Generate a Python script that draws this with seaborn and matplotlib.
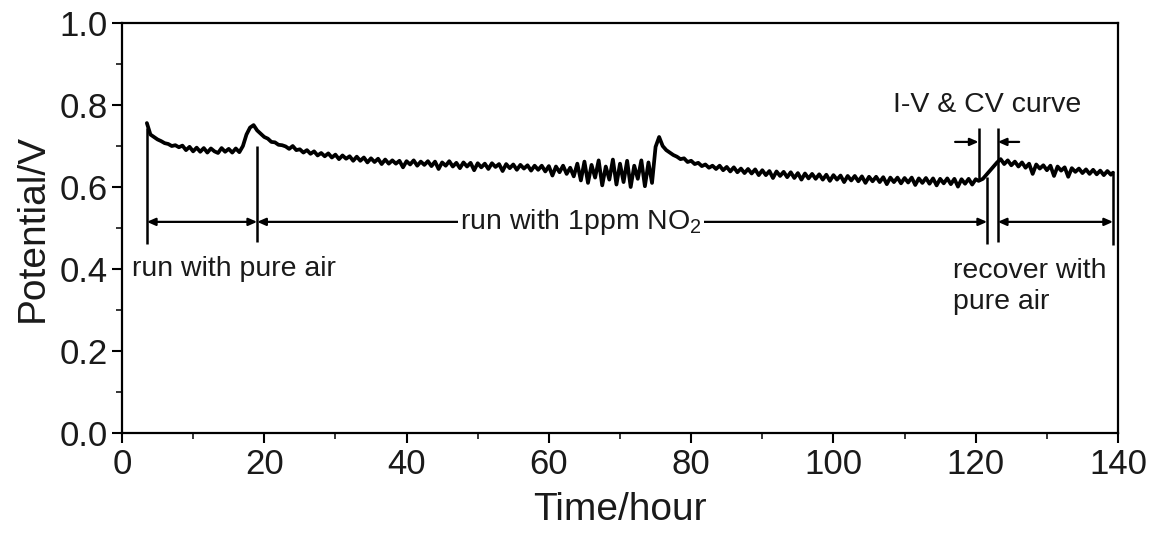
import numpy as np
import pandas as pd
import matplotlib
matplotlib.use("Agg")
import matplotlib.pyplot as plt
import seaborn as sns

# ---------------- data ----------------
# main run: 3.5 h .. 120.0 h, 0.5 h sampling
main_start, main_step = 3.5, 0.5
main_values = [
    0.756, 0.728, 0.722, 0.716, 0.712, 0.707, 0.705, 0.700, 0.702, 0.697,
    0.701, 0.690, 0.698, 0.687, 0.696, 0.686, 0.695, 0.684, 0.694, 0.687,
    0.683, 0.695, 0.686, 0.693, 0.684, 0.694, 0.685, 0.700, 0.728, 0.745,
    0.751, 0.738, 0.730, 0.722, 0.718, 0.710, 0.709, 0.703, 0.702, 0.699,
    0.693, 0.700, 0.690, 0.692, 0.684, 0.690, 0.681, 0.687, 0.677, 0.683,
    0.675, 0.682, 0.672, 0.679, 0.668, 0.677, 0.669, 0.675, 0.664, 0.674,
    0.664, 0.672, 0.660, 0.670, 0.661, 0.669, 0.656, 0.667, 0.657, 0.665,
    0.657, 0.664, 0.648, 0.663, 0.655, 0.665, 0.652, 0.662, 0.654, 0.663,
    0.651, 0.662, 0.644, 0.660, 0.652, 0.663, 0.650, 0.659, 0.646, 0.660,
    0.650, 0.659, 0.641, 0.658, 0.648, 0.657, 0.644, 0.658, 0.649, 0.656,
    0.639, 0.656, 0.646, 0.655, 0.642, 0.654, 0.645, 0.653, 0.640, 0.652,
    0.642, 0.652, 0.638, 0.651, 0.628, 0.650, 0.636, 0.652, 0.632, 0.647,
    0.626, 0.657, 0.616, 0.662, 0.610, 0.654, 0.623, 0.665, 0.604, 0.650,
    0.618, 0.667, 0.606, 0.657, 0.612, 0.664, 0.600, 0.652, 0.620, 0.665,
    0.602, 0.660, 0.610, 0.698, 0.722, 0.700, 0.690, 0.684, 0.678, 0.674,
    0.668, 0.670, 0.661, 0.664, 0.656, 0.659, 0.651, 0.655, 0.647, 0.652,
    0.644, 0.652, 0.641, 0.649, 0.638, 0.648, 0.636, 0.645, 0.634, 0.644,
    0.633, 0.643, 0.629, 0.641, 0.629, 0.639, 0.622, 0.638, 0.627, 0.637,
    0.624, 0.636, 0.622, 0.634, 0.618, 0.633, 0.621, 0.632, 0.620, 0.631,
    0.618, 0.630, 0.615, 0.629, 0.618, 0.628, 0.612, 0.627, 0.616, 0.627,
    0.614, 0.626, 0.610, 0.625, 0.614, 0.625, 0.612, 0.624, 0.607, 0.623,
    0.612, 0.623, 0.609, 0.622, 0.611, 0.623, 0.605, 0.621, 0.610, 0.622,
    0.608, 0.621, 0.604, 0.620, 0.609, 0.621, 0.607, 0.620, 0.601, 0.619,
    0.608, 0.620, 0.606, 0.619,
]
# transition during I-V & CV measurement
trans_time = [120.4, 121.0, 123.0]
trans_values = [0.615, 0.620, 0.660]
# recovery with pure air
recov_time = [123.5, 124.0, 124.5, 125.0, 125.5, 126.0, 126.5, 127.0, 127.5, 128.0,
              128.5, 129.0, 129.5, 130.0, 130.5, 131.0, 131.5, 132.0, 132.5, 133.0,
              133.5, 134.0, 134.5, 135.0, 135.5, 136.0, 136.5, 137.0, 137.5, 138.0,
              138.5, 139.0, 139.3]
recov_values = [0.668, 0.656, 0.665, 0.653, 0.662, 0.650, 0.660, 0.647, 0.657, 0.632,
                0.655, 0.645, 0.653, 0.641, 0.652, 0.627, 0.650, 0.640, 0.648, 0.625,
                0.646, 0.637, 0.645, 0.634, 0.643, 0.632, 0.642, 0.631, 0.640, 0.629,
                0.639, 0.630, 0.635]

# annotation markers (time in hours)
phase_times = [3.5, 19.0, 121.6, 123.1, 139.3]
iv_times = [120.4, 123.1]
bracket_y = 0.515
x_ticks = [0, 20, 40, 60, 80, 100, 120, 140]
y_ticks = [0.0, 0.2, 0.4, 0.6, 0.8, 1.0]

main_time = main_start + main_step * np.arange(len(main_values))
time = np.concatenate([main_time, trans_time, recov_time])
pot = np.concatenate([main_values, trans_values, recov_values])
df = pd.DataFrame({"Time/hour": time, "Potential/V": pot})

# ---------------- plot ----------------
sns.set_style("ticks")
plt.rcParams['font.family'] = ['Liberation Sans', 'DejaVu Sans']
plt.rcParams['mathtext.fontset'] = 'custom'
plt.rcParams['mathtext.rm'] = 'Liberation Sans'

fig = plt.figure(figsize=(11.55, 5.33), dpi=100)
ax = fig.add_axes([0.1056, 0.1876, 0.8624, 0.7692])

sns.lineplot(data=df, x="Time/hour", y="Potential/V", ax=ax, color="black",
             lw=2.7, estimator=None, sort=False)

ax.set_xlim(0, 140)
ax.set_ylim(0, 1.0)
ax.set_xticks(x_ticks)
ax.set_yticks(y_ticks)
ax.set_xticklabels([str(v) for v in x_ticks])
ax.set_yticklabels([f"{v:.1f}" for v in y_ticks])
ax.set_xticks(np.arange(10, 140, 20), minor=True)
ax.set_yticks(np.arange(0.1, 1.0, 0.2), minor=True)
ax.tick_params(axis='both', which='major', direction='out', length=7, width=1.5,
               labelsize=25, color='black', labelcolor='#1a1a1a')
ax.tick_params(axis='both', which='minor', direction='out', length=4, width=1.3)
for sp in ax.spines.values():
    sp.set_linewidth(1.6)
    sp.set_color('black')
ax.set_xlabel("Time/hour", fontsize=28, color='#1a1a1a', labelpad=8)
ax.set_ylabel("Potential/V", fontsize=28, color='#1a1a1a', labelpad=6)

lc = 'black'
# vertical phase lines
ax.vlines(3.5, 0.46, 0.745, color=lc, lw=1.8)
ax.vlines(19.0, 0.466, 0.70, color=lc, lw=1.8)
ax.vlines(121.6, 0.462, 0.625, color=lc, lw=1.8)
ax.vlines(123.1, 0.466, 0.745, color=lc, lw=1.8)
ax.vlines(139.3, 0.459, 0.635, color=lc, lw=1.8)
ax.vlines(120.4, 0.615, 0.745, color=lc, lw=1.8)

ap = dict(arrowstyle='<|-|>,head_length=0.5,head_width=0.22', color=lc, lw=1.6,
          shrinkA=0, shrinkB=0)
ax.annotate('', xy=(phase_times[0], bracket_y), xytext=(phase_times[1], bracket_y), arrowprops=ap)
ax.annotate('', xy=(phase_times[1], bracket_y), xytext=(phase_times[2], bracket_y), arrowprops=ap)
ax.annotate('', xy=(phase_times[3], bracket_y), xytext=(phase_times[4], bracket_y), arrowprops=ap)

ap1 = dict(arrowstyle='-|>,head_length=0.5,head_width=0.22', color=lc, lw=1.6,
           shrinkA=0, shrinkB=0)
ax.annotate('', xy=(iv_times[0], 0.71), xytext=(117.1, 0.71), arrowprops=ap1)
ax.annotate('', xy=(iv_times[1], 0.71), xytext=(126.1, 0.71), arrowprops=ap1)

tc = '#1a1a1a'
ax.text(1.4, 0.40, "run with pure air", fontsize=20.5, color=tc, va='center', ha='left')
ax.text(64.5, bracket_y, "run with 1ppm NO$_2$", fontsize=20.5, color=tc,
        va='center', ha='center',
        bbox=dict(facecolor='white', edgecolor='none', pad=1.5))
ax.text(108.4, 0.80, "I-V & CV curve", fontsize=20.5, color=tc, va='center', ha='left')
ax.text(116.8, 0.358, "recover with\npure air", fontsize=20.5, color=tc,
        va='center', ha='left', linespacing=1.25)

fig.savefig("out.png", dpi=100)
